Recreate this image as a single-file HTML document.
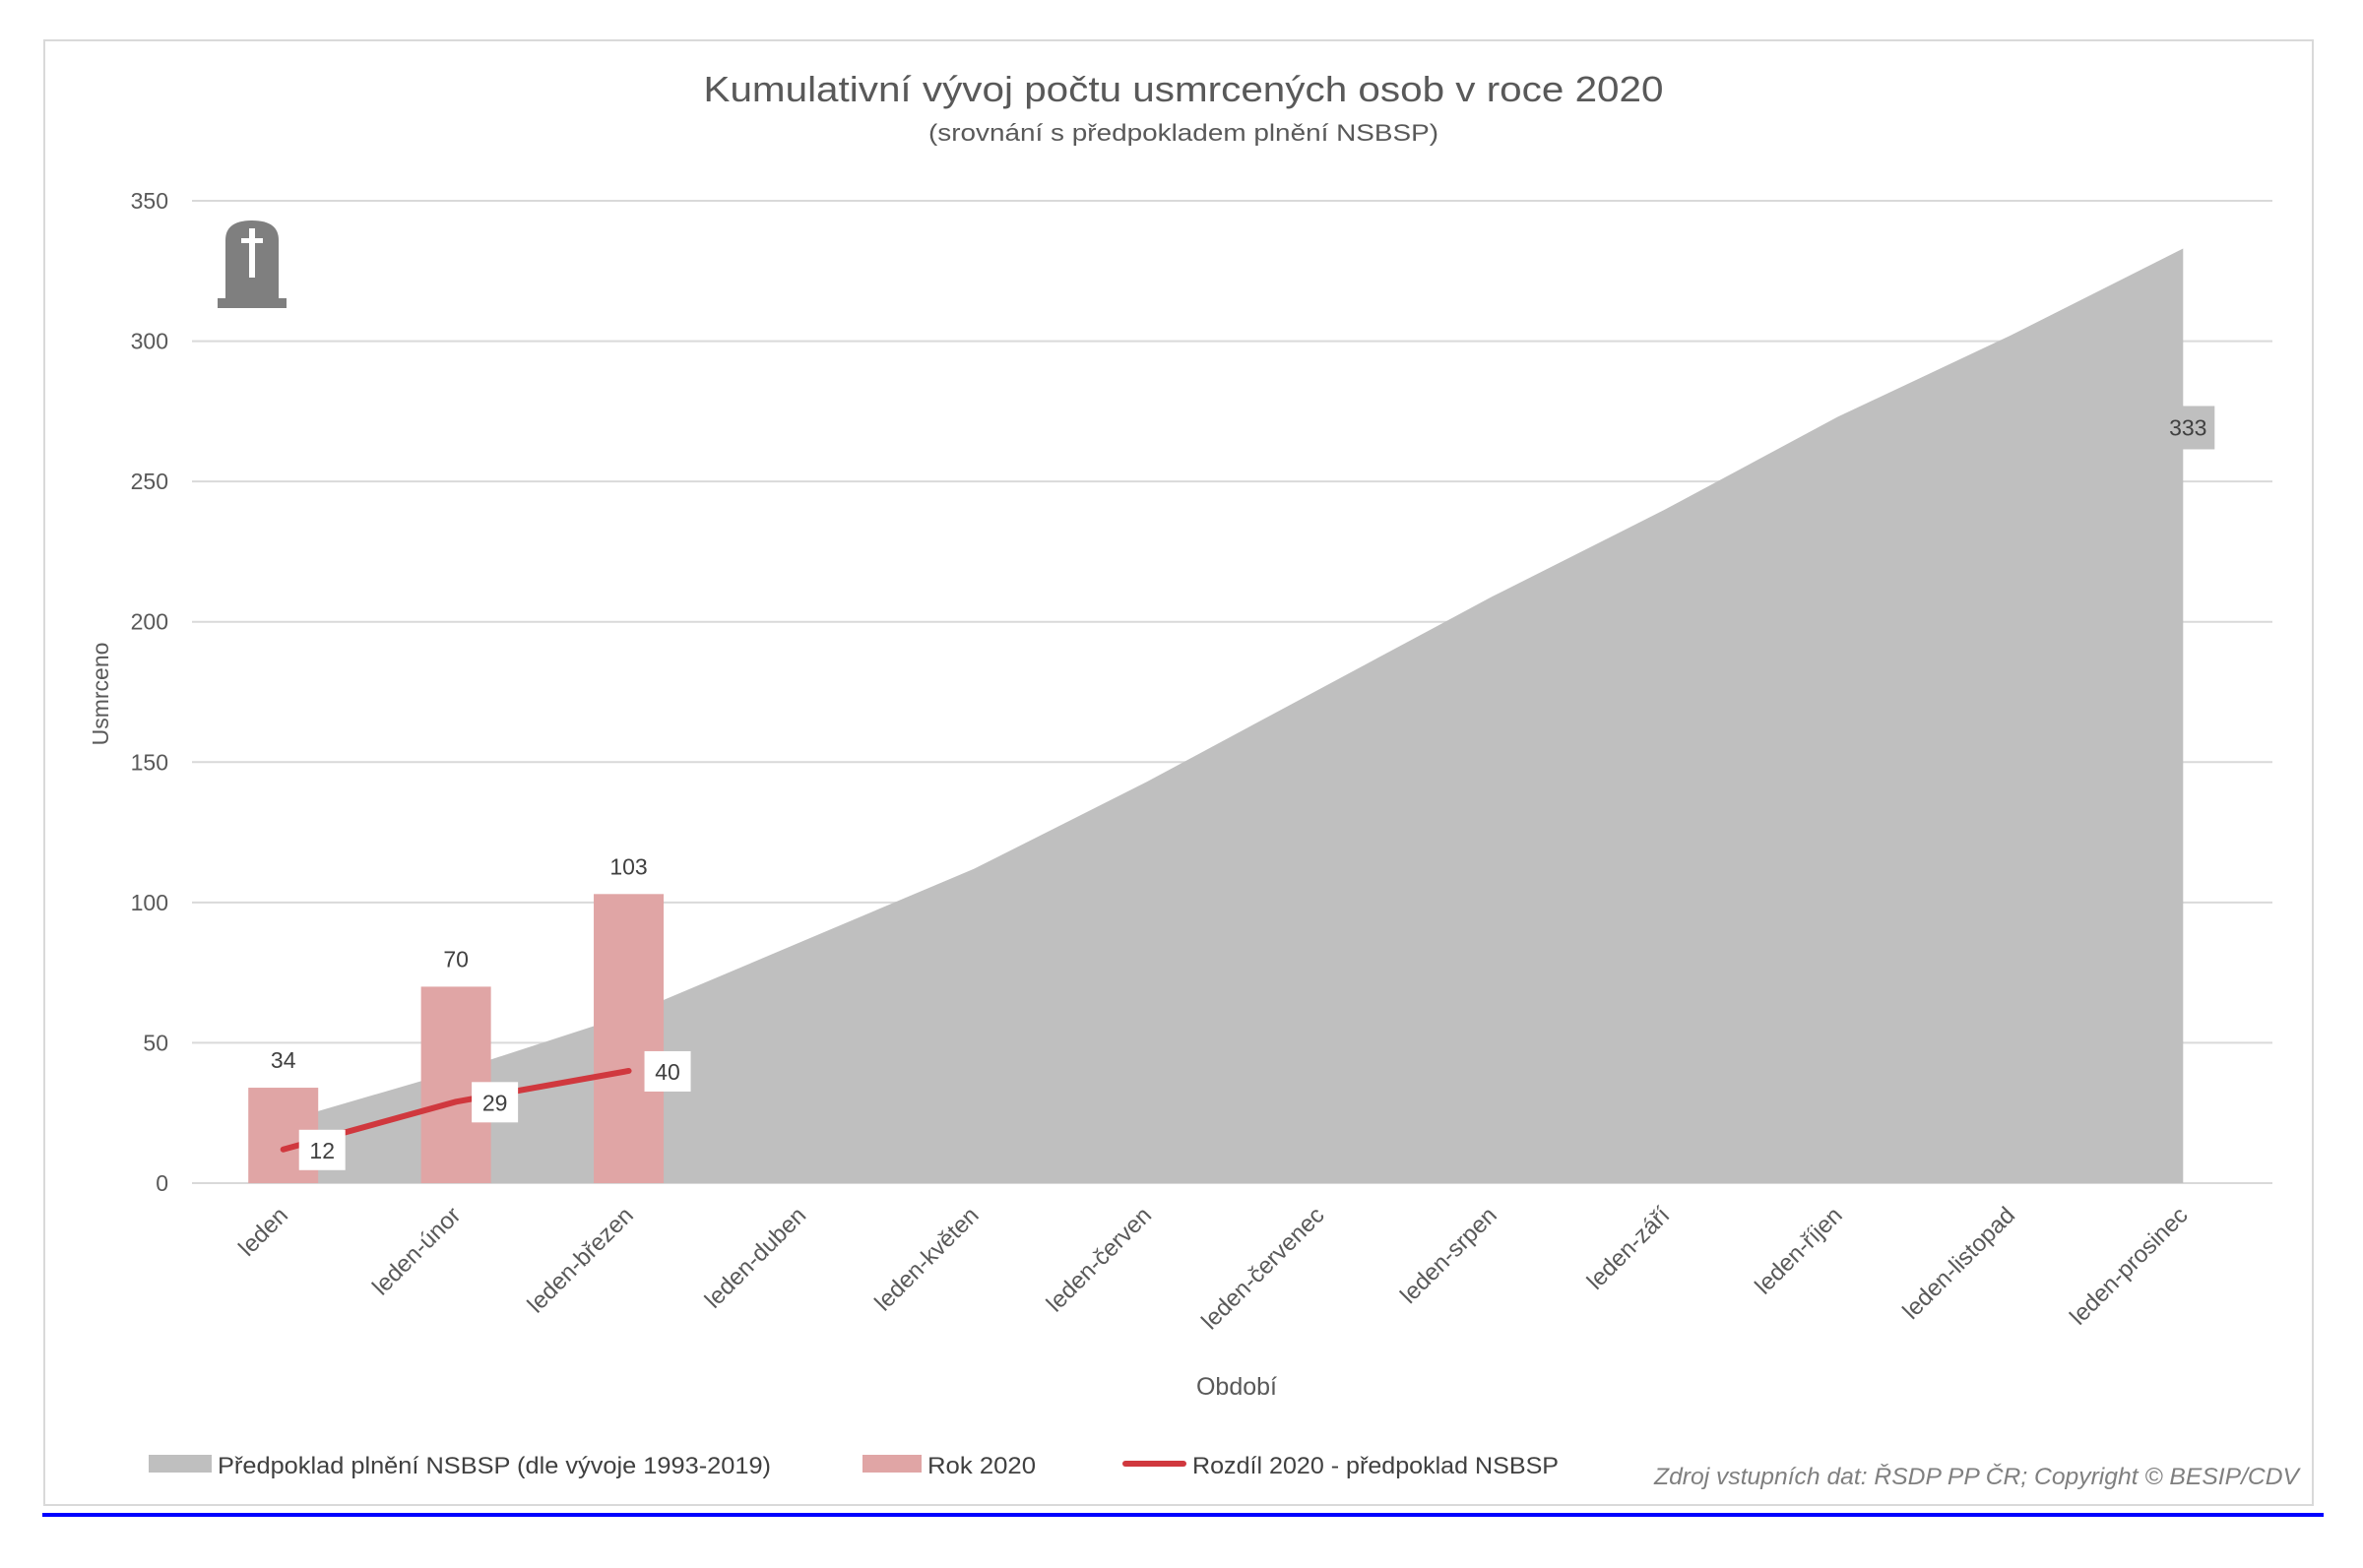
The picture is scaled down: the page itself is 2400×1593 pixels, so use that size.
<!DOCTYPE html>
<html><head><meta charset="utf-8"><style>
html,body{margin:0;padding:0;background:#fff;}
svg{display:block;font-family:"Liberation Sans",sans-serif;}
</style></head><body>
<svg id="chart" width="2400" height="1593" viewBox="0 0 2400 1593" xmlns="http://www.w3.org/2000/svg">
<rect x="45" y="41" width="2304" height="1488" fill="#fff" stroke="#d9d9d9" stroke-width="2"/>
<line x1="43" y1="1539" x2="2360" y2="1539" stroke="#0000ff" stroke-width="4"/>
<text x="1202" y="103" text-anchor="middle" font-size="36" fill="#595959" textLength="975" lengthAdjust="spacingAndGlyphs">Kumulativní vývoj počtu usmrcených osob v roce 2020</text>
<text x="1202" y="143" text-anchor="middle" font-size="24" fill="#595959" textLength="518" lengthAdjust="spacingAndGlyphs">(srovnání s předpokladem plnění NSBSP)</text>
<g id="grid"></g>
<g id="marks"></g>
<g id="labels"></g>
<g>
<path d="M229 307 L229 244 Q229 224 256 224 Q283 224 283 244 L283 307 Z" fill="#7f7f7f"/>
<rect x="221" y="303" width="70" height="10" fill="#7f7f7f"/>
<rect x="253" y="232" width="6" height="50" fill="#fff"/>
<rect x="245" y="242" width="22" height="5" fill="#fff"/>
</g>
<text transform="translate(110,705) rotate(-90)" text-anchor="middle" font-size="23" fill="#595959">Usmrceno</text>
<text x="1256" y="1417" text-anchor="middle" font-size="25" fill="#595959">Období</text>
<g>
<g><rect x="151" y="1478" width="64" height="18" fill="#bfbfbf"/><text x="221" y="1497" font-size="24" fill="#404040" textLength="562" lengthAdjust="spacingAndGlyphs">Předpoklad plnění NSBSP (dle vývoje 1993-2019)</text></g>
<g><rect x="876" y="1478" width="60" height="18" fill="#e0a5a5"/><text x="942" y="1497" font-size="24" fill="#404040" textLength="110" lengthAdjust="spacingAndGlyphs">Rok 2020</text></g>
<g><rect x="1140" y="1484" width="65" height="6" rx="3" fill="#d0383e"/><text x="1211" y="1497" font-size="24" fill="#404040" textLength="372" lengthAdjust="spacingAndGlyphs">Rozdíl 2020 - předpoklad NSBSP</text></g>
</g>
<text x="1680" y="1508" font-size="24" font-style="italic" fill="#7f7f7f" textLength="655" lengthAdjust="spacingAndGlyphs">Zdroj vstupních dat: ŘSDP PP ČR; Copyright © BESIP/CDV</text>
</svg>
<script>
const categories = ["leden","leden-únor","leden-březen","leden-duben","leden-květen","leden-červen","leden-červenec","leden-srpen","leden-září","leden-říjen","leden-listopad","leden-prosinec"];
const expectedValues = [22,40,60,86,112,143,176,209,240,273,302,333];
const actual2020 = [34,70,103];
const difference = [12,29,40];
const yTicks = [0,50,100,150,200,250,300,350];

const NS = "http://www.w3.org/2000/svg";
const plotL = 200, plotR = 2305, y0 = 1202, y350 = 204;
const band = (plotR - plotL) / categories.length;
function xC(i){ return plotL + band * (i + 0.5); }
function yV(v){ return y0 - (y0 - y350) * v / 350; }
function mk(tag, attrs, parent, txt){
  const e = document.createElementNS(NS, tag);
  for (const k in attrs) e.setAttribute(k, attrs[k]);
  if (txt !== undefined) e.textContent = txt;
  parent.appendChild(e);
  return e;
}
const grid = document.getElementById('grid');
const marks = document.getElementById('marks');
const labels = document.getElementById('labels');

yTicks.forEach(t => {
  const l = mk('line', {x1: plotL - 5, x2: plotR + 3, y1: yV(t), y2: yV(t), stroke: '#d9d9d9', 'stroke-width': 2}, grid);
  
  
  const tx = mk('text', {x: 171, y: yV(t) + 8, 'text-anchor': 'end', 'font-size': 23, fill: '#595959'}, grid, String(t));
  
  
});

let d = 'M' + xC(0) + ' ' + yV(0);
expectedValues.forEach((v, i) => { d += ' L' + xC(i) + ' ' + yV(v); });
d += ' L' + xC(expectedValues.length - 1) + ' ' + yV(0) + ' Z';
const area = mk('path', {d: d, fill: '#bfbfbf'}, marks);



const bw = 71;
actual2020.forEach((v, i) => {
  const r = mk('rect', {x: xC(i) - bw / 2, y: yV(v), width: bw, height: yV(0) - yV(v), fill: '#e0a5a5'}, marks);
  
  
  const t = mk('text', {x: xC(i), y: yV(v) - 20, 'text-anchor': 'middle', 'font-size': 23, fill: '#404040'}, labels, String(v));
  
  
});

const pts = difference.map((v, i) => xC(i) + ',' + yV(v)).join(' ');
const pl = mk('polyline', {points: pts, fill: 'none', stroke: '#d0383e', 'stroke-width': 6, 'stroke-linecap': 'round', 'stroke-linejoin': 'round'}, marks);


difference.forEach((v, i) => {
  const bx = xC(i) + 16, by = yV(v) - 20;
  const r = mk('rect', {x: bx, y: by, width: 47, height: 41, fill: '#fff'}, labels);
  
  
  const t = mk('text', {x: bx + 23.5, y: by + 29, 'text-anchor': 'middle', 'font-size': 23, fill: '#404040'}, labels, String(v));
  
  
});

const li = expectedValues.length - 1;
const lastV = expectedValues[li];
const lb = mk('rect', {x: xC(li) - 22, y: yV(lastV) + 160, width: 54, height: 44, fill: '#bfbfbf'}, labels);


const lt = mk('text', {x: xC(li) + 5, y: yV(lastV) + 190, 'text-anchor': 'middle', 'font-size': 23, fill: '#404040'}, labels, String(lastV));



categories.forEach((c, i) => {
  const x = xC(i) + 6, y = 1236;
  const t = mk('text', {transform: 'translate(' + x + ',' + y + ') rotate(-45)', 'text-anchor': 'end', 'font-size': 24, fill: '#595959'}, labels, c);
  
  
});
</script>
</body></html>
